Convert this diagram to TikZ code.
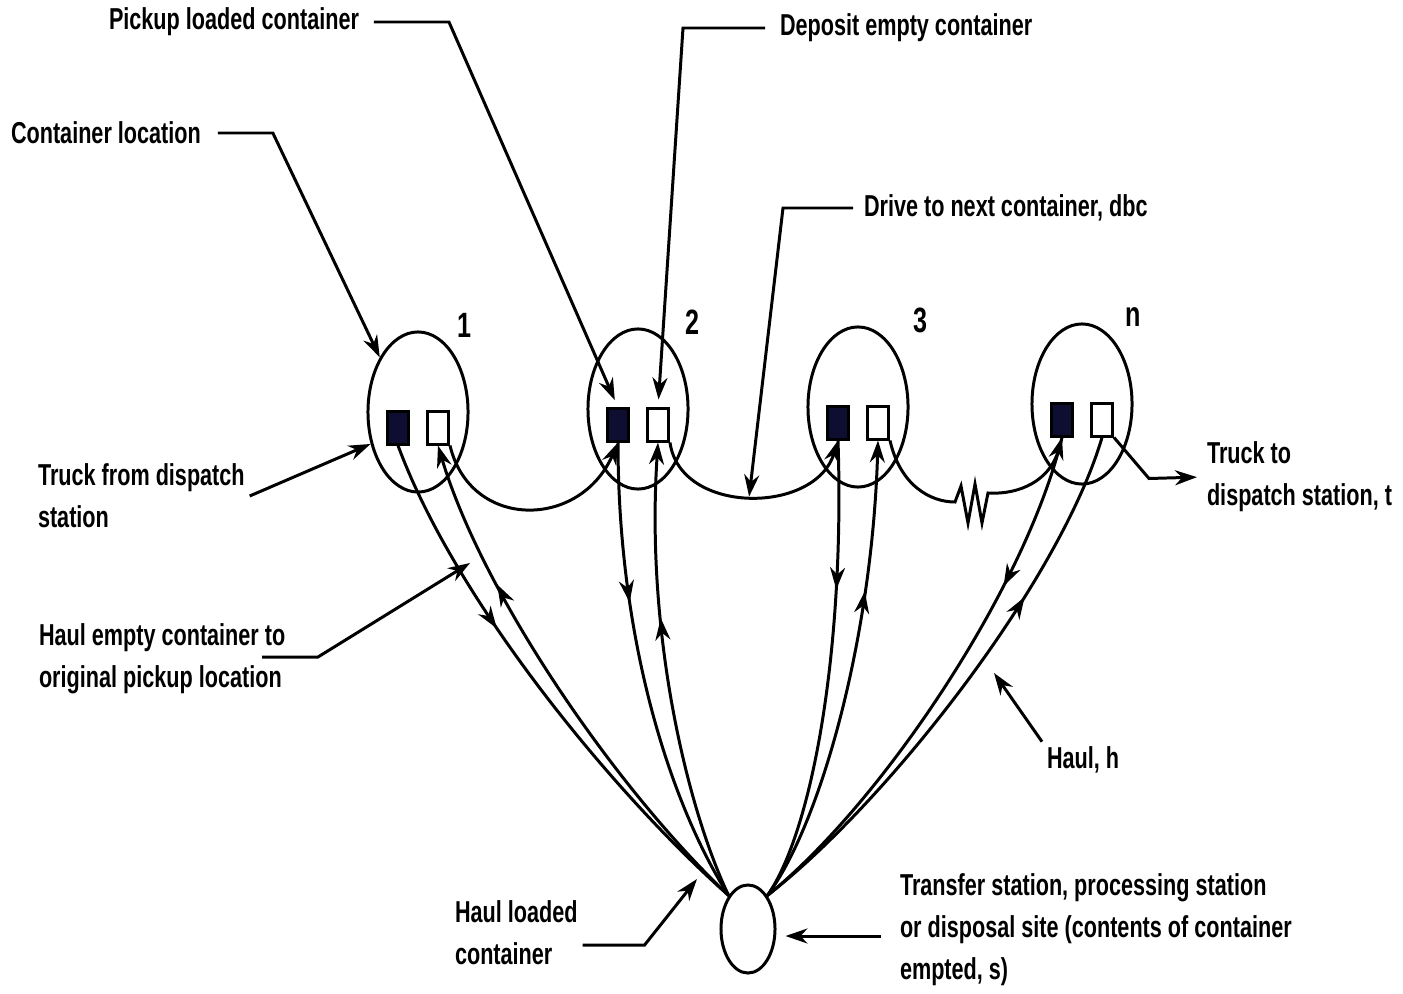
\documentclass[tikz,border=0pt]{standalone}
\usepackage{fontspec}
\setmainfont{Liberation Sans}[FakeStretch=0.715]
\usetikzlibrary{arrows.meta}
\usetikzlibrary{shapes.geometric}
\usetikzlibrary{decorations.markings}

\definecolor{boxfill}{HTML}{0E0E33}

\tikzset{
 cloc/.style={draw, ellipse, minimum width=1cm, minimum height=1.6cm, inner sep=0},
 fullbox/.style={draw, fill=boxfill, minimum width=.21cm, minimum height=.32cm, inner sep=0},
 emptybox/.style={draw, fill=white, minimum width=.21cm, minimum height=.32cm, inner sep=0},
 lbl/.style={anchor=west, align=left, inner sep=1pt, font=\fontsize{8.6}{11.9}\selectfont\bfseries},
 numlbl/.style={inner sep=1pt, font=\fontsize{10}{11}\selectfont\bfseries},
 midarrow/.style={postaction={decorate}, decoration={markings, mark=at position #1 with {\arrow{>}}}},
}

\begin{document}
\begin{tikzpicture}[x=.01cm, y=-.01cm, line width=.85pt, >={Stealth[length=2.2mm,width=1.5mm]}]
\useasboundingbox (0,0) rectangle (1403,994);
% container locations 1, 2, 3, n
\foreach \i/\x/\y/\nx in {1/418/412/464, 2/638/409/692, 3/858/407/920, n/1082/404/1133} {
 \node[cloc] (c\i) at (\x,\y) {};
 \node[fullbox] (f\i) at (\x-20,\y+16) {};
 \node[emptybox] (e\i) at (\x+20,\y+16) {};
 \node[numlbl] (num\i) at (\nx,\y-87) {\i};
}
% disposal site
\node[cloc, minimum width=.54cm, minimum height=.88cm] (site) at (748,929) {};

% drive to next container
\draw[->] (e1.south east) .. controls (470,530) and (580,530) .. (f2.south);
\draw[->] (e2.south east) .. controls (680,515) and (815,515) .. (f3.south) coordinate[pos=.5] (d23);
\draw[->] (e3.south east) .. controls (900,485) and (930,502) .. (955,502) -- (961,486) -- (968,523)
 -- (975,484) -- (982,523) -- (988,493) .. controls (1020,495) and (1050,480) .. (fn.south);

% haul loaded container out, empty container back
\draw[midarrow=.37] (f1.south) .. controls (455,600) and (612,792) .. (site.120);
\draw[->, midarrow=.72] (site.120) .. controls (615,788) and (482,593) .. (e1.south);
\draw[midarrow=.34] (f2.south) .. controls (618,650) and (675,812) .. (site.120);
\draw[->, midarrow=.62] (site.120) .. controls (690,815) and (645,640) .. (e2.south);
\draw[midarrow=.32] (f3.south) .. controls (845,650) and (812,832) .. (site.60);
\draw[->, midarrow=.68] (site.60) .. controls (820,825) and (872,640) .. (e3.south);
\draw[midarrow=.29] (fn.south) .. controls (1025,590) and (880,805) .. (site.60);
\draw[midarrow=.69] (site.60) .. controls (890,800) and (1060,580) .. (en.south);

% labels
\node[lbl] (plc) at (104,22) {Pickup loaded container};
\draw[->, shorten >=.8mm] ([xshift=1mm]plc.east) -- ++(75,0) -- (f2.north);
\node[lbl] (dec) at (775,28) {Deposit empty container};
\draw[->, shorten >=.8mm] ([xshift=-1mm]dec.west) -- ++(-82,0) -- (e2.north);
\node[lbl] (cl) at (6,133) {Container location};
\draw[->] ([xshift=1.2mm]cl.east) -- ++(55,0) -- (c1.125);
\node[lbl] (dnc) at (859,208) {Drive to next container, dbc};
\draw[->] ([xshift=-.6mm]dnc.west) -- ++(-70,0) -- (d23);

\node[lbl] (tfd) at (33,496) {Truck from dispatch\\station};
\draw[->] (tfd.east) -- (c1.214);
\node[lbl] (hec) at (34,659) {Haul empty container to\\original pickup location};
\coordinate (hecu) at (262,657);
\coordinate (hetip) at (470,563);
\draw[->] (hecu) -- ++(56,0) -- (hetip);

\node[lbl] (ttd) at (1202,477) {Truck to\\dispatch station, t};
\draw[->, shorten >=.5mm] (en.south east) -- ++(35,41) -- (ttd.west);
\node[lbl] (hh) at (1042,760) {Haul, h};
\coordinate (hhtip) at (994,673);
\draw[->] (hh.north west) -- (hhtip);

\node[lbl] (hlc) at (450,933) {Haul loaded\\container};
\coordinate (hltip) at (697,879);
\draw[->] ([yshift=-1.2mm]hlc.east) -- ++(62,0) -- (hltip);
\node[lbl] (tsd) at (895,930) {Transfer station, processing station\\or disposal site (contents of container\\empted, s)};
\coordinate (tsa) at ([xshift=-1.4mm, yshift=-.6mm]tsd.west);
\draw[->, shorten >=.9mm] (tsa) -- (tsa -| site.east);
\end{tikzpicture}
\end{document}
